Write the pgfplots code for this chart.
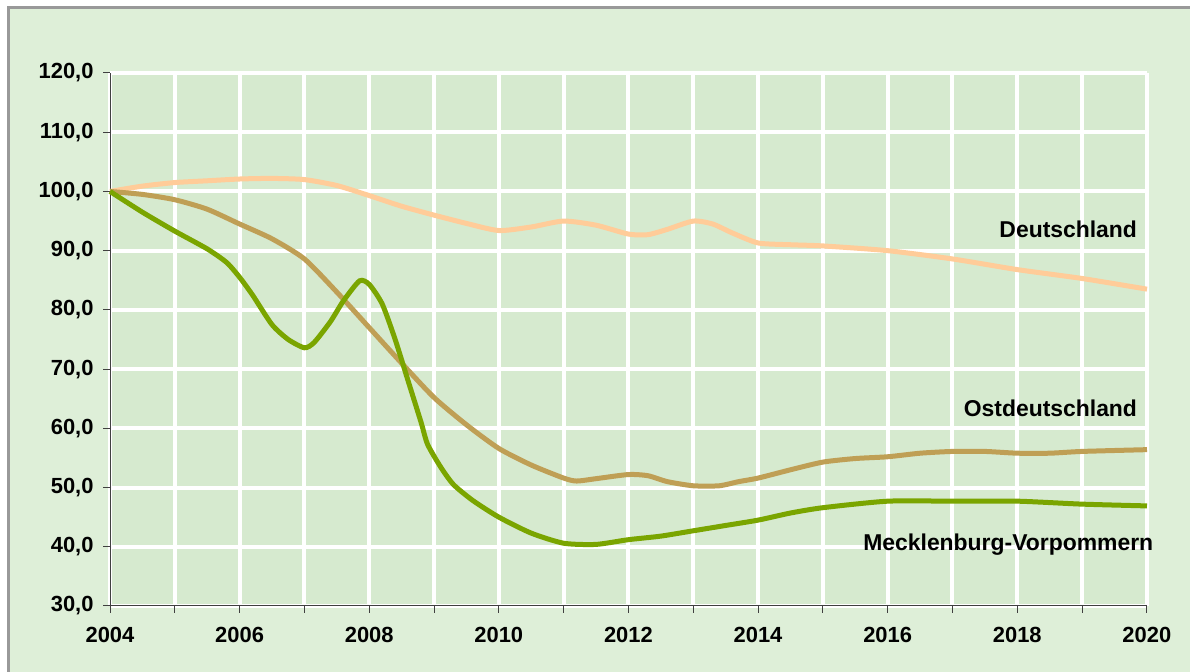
\documentclass[border=0pt]{standalone}
\usepackage{fontspec}
\setmainfont{Liberation Sans}
\usepackage{pgfplots}
\pgfplotsset{compat=1.18}
\definecolor{outergreen}{HTML}{DEEFD8}
\definecolor{plotgreen}{HTML}{D6EACF}
\definecolor{deline}{HTML}{FFCC99}
\definecolor{ostline}{HTML}{BF9F55}
\definecolor{mvline}{HTML}{7AA500}
\definecolor{framegray}{HTML}{999999}
\begin{document}
\begin{tikzpicture}
\useasboundingbox (0,0) rectangle (1190bp,672bp);
\fill[outergreen] (8bp,0) rectangle (1190bp,664bp);
\draw[framegray, line width=3bp] (8bp,0) -- (8bp,664bp) -- (1190bp,664bp);
\begin{axis}[
    at={(110bp,66bp)}, anchor=south west,
    width=1037bp, height=533bp, scale only axis,
    xmin=2004, xmax=2020, ymin=30, ymax=120,
    xtick={2004,...,2020},
    xticklabels={2004,,2006,,2008,,2010,,2012,,2014,,2016,,2018,,2020},
    ytick={30,40,...,120},
    yticklabel style={xshift=-6bp, /pgf/number format/.cd, fixed, fixed zerofill, precision=1, use comma},
    /pgf/number format/assume math mode=true,
    tick label style={font=\fontsize{22}{25}\selectfont\bfseries},
    axis x line*=bottom, axis y line*=left,
    axis line style={black!75, line width=1bp},
    tick style={black!75, line width=1bp},
    tick align=outside, major tick length=7bp,
    xtick pos=bottom, ytick pos=left,
    grid=major, major grid style={white, line width=4bp},
    axis background/.style={fill=plotgreen},
    xticklabel style={yshift=-11bp},
    clip=false,
]
\addplot[deline, line width=5bp, smooth, tension=0.4] coordinates {
(2004,100) (2004.5,100.9) (2005,101.5) (2005.5,101.8) (2006,102.1) (2006.5,102.2) (2007,102)
(2007.5,101) (2008,99.3) (2008.5,97.5) (2009,96) (2009.5,94.6) (2010,93.4) (2010.5,94)
(2011,95) (2011.5,94.3) (2012,92.8) (2012.3,92.7) (2012.6,93.6) (2013,95) (2013.3,94.5)
(2013.6,93) (2014,91.3) (2014.5,91) (2015,90.8) (2016,90) (2017,88.6) (2018,86.8)
(2019,85.3) (2020,83.5)
};
\addplot[ostline, line width=5bp, smooth, tension=0.4] coordinates {
(2004,100) (2004.5,99.5) (2005,98.6) (2005.5,97) (2006,94.5) (2006.5,92) (2007,88.6)
(2007.5,83) (2008,77) (2008.5,71) (2009,65.2) (2009.5,60.6) (2010,56.6) (2010.5,53.8)
(2011,51.6) (2011.2,51.1) (2011.5,51.5) (2012,52.2) (2012.3,52) (2012.6,51) (2013,50.3)
(2013.4,50.3) (2013.7,51) (2014,51.6) (2014.5,53) (2015,54.3) (2015.5,54.9) (2016,55.2)
(2016.5,55.8) (2017,56.1) (2017.5,56.1) (2018,55.8) (2018.5,55.8) (2019,56.1) (2020,56.4)
};
\addplot[mvline, line width=5bp, smooth, tension=0.4] coordinates {
(2004,100) (2004.5,96.5) (2005,93.3) (2005.5,90.3) (2005.8,88) (2006,85.5) (2006.2,82.5)
(2006.5,77.5) (2006.75,75) (2007,73.6) (2007.15,74.5) (2007.4,78) (2007.6,81.5)
(2007.85,84.9) (2008,84.3) (2008.2,81) (2008.4,75) (2008.6,68) (2008.8,61) (2008.9,57.3)
(2009.1,53.5) (2009.3,50.5) (2009.6,47.8) (2010,45) (2010.5,42.3) (2011,40.6)
(2011.5,40.4) (2012,41.2) (2012.5,41.8) (2013,42.7) (2013.5,43.6) (2014,44.5)
(2014.5,45.7) (2015,46.6) (2016,47.7) (2017,47.7) (2018,47.7) (2019,47.2) (2020,46.9)
};
\node[anchor=east, font=\fontsize{23}{26}\selectfont\bfseries] at (axis cs:2019.9,93.6) {Deutschland};
\node[anchor=east, font=\fontsize{23}{26}\selectfont\bfseries] at (axis cs:2019.9,63.4) {Ostdeutschland};
\node[anchor=east, font=\fontsize{23}{26}\selectfont\bfseries] at (axis cs:2020.15,40.3) {Mecklenburg-Vorpommern};
\end{axis}
\end{tikzpicture}
\end{document}
